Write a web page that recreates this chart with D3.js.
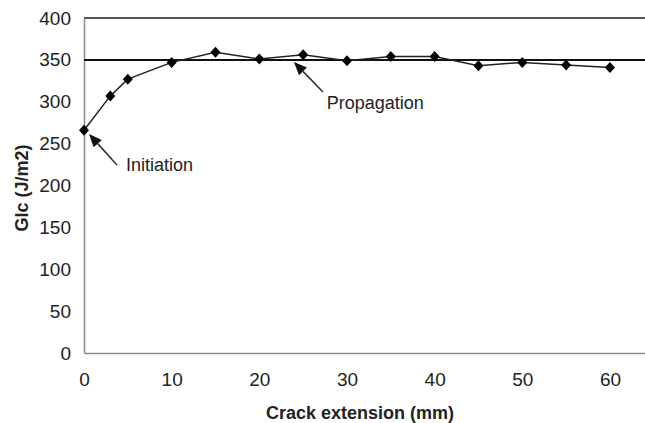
<!DOCTYPE html>
<html>
<head>
<meta charset="utf-8">
<script src="https://cdn.jsdelivr.net/npm/d3@7"></script>
<style>
  html, body { margin: 0; padding: 0; background: #fff; }
  svg { display: block; }
  text { font-family: "Liberation Sans", Arial, sans-serif; fill: #222; }
</style>
</head>
<body>
<svg id="chart" width="645" height="423"></svg>
<script>
// Fracture toughness vs. crack extension
const crackExtension = [0, 3, 5, 10, 15, 20, 25, 30, 35, 40, 45, 50, 55, 60];
const glc = [266, 307, 327, 347, 359, 351, 356, 349, 354, 354, 343, 347, 344, 341];
const xTicks = [0, 10, 20, 30, 40, 50, 60];
const yTicks = [0, 50, 100, 150, 200, 250, 300, 350, 400];
const plateauLevel = 350;

// Annotation arrows, in data units: tip, tail and label anchor
const annotations = [
  { label: "Initiation",  tip: [0.57, 261.5], tail: [3.76, 224.5], text: [4.8, 225] },
  { label: "Propagation", tip: [23.95, 347.5], tail: [27.26, 311.6], text: [27.7, 299] }
];

const svg = d3.select("#chart");
const plotLeft = 84, plotRight = 645, plotTop = 18, plotBottom = 353;

const x = d3.scaleLinear().domain([0, 64]).range([plotLeft, plotRight]);
const y = d3.scaleLinear().domain([0, 400]).range([plotBottom, plotTop]);

// Top boundary of the plot
svg.append("line")
  .attr("x1", x(0)).attr("x2", x(64))
  .attr("y1", y(400)).attr("y2", y(400))
  .attr("stroke", "#555").attr("stroke-width", 2);

// Axes
const yAxis = svg.append("g")
  .attr("transform", `translate(${plotLeft},0)`)
  .call(d3.axisLeft(y).tickValues(yTicks).tickSize(0).tickSizeOuter(0).tickPadding(13));
yAxis.select(".domain").attr("stroke", "#8c8c8c").attr("stroke-width", 1.5);
yAxis.selectAll("text").style("font-size", "19px").style("fill", "#222");

const xAxis = svg.append("g")
  .attr("transform", `translate(0,${plotBottom})`)
  .call(d3.axisBottom(x).tickValues(xTicks).tickSize(0).tickSizeOuter(0).tickPadding(20));
xAxis.select(".domain").attr("stroke", "#8c8c8c").attr("stroke-width", 1.5);
xAxis.selectAll("text").style("font-size", "19px").style("fill", "#222");

// Plateau reference line
svg.append("line")
  .attr("x1", x(0)).attr("x2", x(64))
  .attr("y1", y(plateauLevel)).attr("y2", y(plateauLevel))
  .attr("stroke", "#111").attr("stroke-width", 2);

// Series line and diamond markers
const pts = crackExtension.map((d, i) => ({ x: d, y: glc[i] }));
svg.append("path")
  .datum(pts)
  .attr("fill", "none")
  .attr("stroke", "#222")
  .attr("stroke-width", 1.5)
  .attr("d", d3.line().x(d => x(d.x)).y(d => y(d.y)));

svg.selectAll("path.marker")
  .data(pts)
  .join("path")
  .attr("class", "marker")
  .attr("transform", d => `translate(${x(d.x)},${y(d.y)})`)
  .attr("d", "M0,-5.5L5,0L0,5.5L-5,0Z")
  .attr("fill", "#000");

// Annotations with arrows
annotations.forEach(a => {
  const [tx, ty] = [x(a.tip[0]), y(a.tip[1])];
  const [sx, sy] = [x(a.tail[0]), y(a.tail[1])];
  const ang = Math.atan2(ty - sy, tx - sx);
  const headLen = 13, headHalf = 5.5;
  const bx = tx - headLen * Math.cos(ang), by = ty - headLen * Math.sin(ang);
  svg.append("line")
    .attr("x1", sx).attr("y1", sy).attr("x2", bx).attr("y2", by)
    .attr("stroke", "#333").attr("stroke-width", 1.6);
  const px = -Math.sin(ang), py = Math.cos(ang);
  svg.append("path")
    .attr("d", `M${tx},${ty}L${bx + px * headHalf},${by + py * headHalf}L${bx - px * headHalf},${by - py * headHalf}Z`)
    .attr("fill", "#111");
  svg.append("text")
    .attr("x", x(a.text[0])).attr("y", y(a.text[1]))
    .attr("dy", "0.35em")
    .style("font-size", "18px")
    .text(a.label);
});

// Axis titles
svg.append("text")
  .attr("x", 360).attr("y", 413)
  .attr("text-anchor", "middle").attr("dy", "0.35em")
  .style("font-size", "18px").style("font-weight", "bold")
  .text("Crack extension (mm)");

svg.append("text")
  .attr("transform", "translate(22,188) rotate(-90)")
  .attr("text-anchor", "middle").attr("dy", "0.35em")
  .style("font-size", "18px").style("font-weight", "bold")
  .text("Glc (J/m2)");
</script>
</body>
</html>
